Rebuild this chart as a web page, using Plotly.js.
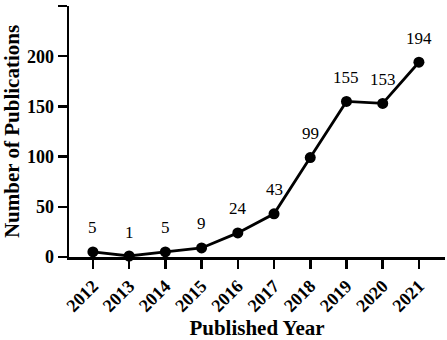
<!DOCTYPE html>
<html><head><meta charset="utf-8">
<script src="https://cdn.plot.ly/plotly-3.0.1.min.js"></script>
<style>html,body{margin:0;padding:0;background:#fff}#c{width:447px;height:340px}</style>
</head><body><div id="c"></div>
<script>
const years = [2012, 2013, 2014, 2015, 2016, 2017, 2018, 2019, 2020, 2021];
const counts = [5, 1, 5, 9, 24, 43, 99, 155, 153, 194];
const yTicks = [0, 50, 100, 150, 200, 250];

const font = 'Liberation Serif, Times New Roman, serif';
const trace = {
  x: years, y: counts, type: 'scatter', mode: 'lines+markers',
  line: {color: '#000', width: 2.8},
  marker: {color: '#000', size: 11},
  cliponaxis: false, hoverinfo: 'none'
};
const annotations = years.map((yr, i) => ({
  x: yr, y: counts[i], text: String(counts[i]), showarrow: false,
  yshift: 24, font: {family: font, size: 17, color: '#000'}
}));
const layout = {
  width: 447, height: 340,
  margin: {l: 69, r: 2, t: 6, b: 83},
  paper_bgcolor: '#fff', plot_bgcolor: '#fff',
  showlegend: false,
  annotations: annotations,
  xaxis: {
    range: [2011.34, 2021.72], tickvals: years, ticktext: years.map(String),
    tickangle: -45, ticks: 'outside', ticklen: 9, tickwidth: 2.5, tickcolor: '#000',
    showline: true, linewidth: 2.5, linecolor: '#000', showgrid: false, zeroline: false,
    tickfont: {family: font, size: 18, color: '#000', weight: 'bold'},
    title: {text: '<b>Published Year</b>', font: {family: font, size: 21, color: '#000'}, standoff: 10}
  },
  yaxis: {
    range: [0, 250], tickvals: yTicks, ticks: 'outside', ticklen: 9, tickwidth: 2.5, tickcolor: '#000',
    showline: true, linewidth: 2.5, linecolor: '#000', showgrid: false, zeroline: false,
    tickfont: {family: font, size: 18, color: '#000', weight: 'bold'},
    title: {text: '<b>Number of Publications</b>', font: {family: font, size: 21, color: '#000'}, standoff: 8}
  }
};
Plotly.newPlot('c', [trace], layout, {staticPlot: true, displayModeBar: false});
</script></body></html>
